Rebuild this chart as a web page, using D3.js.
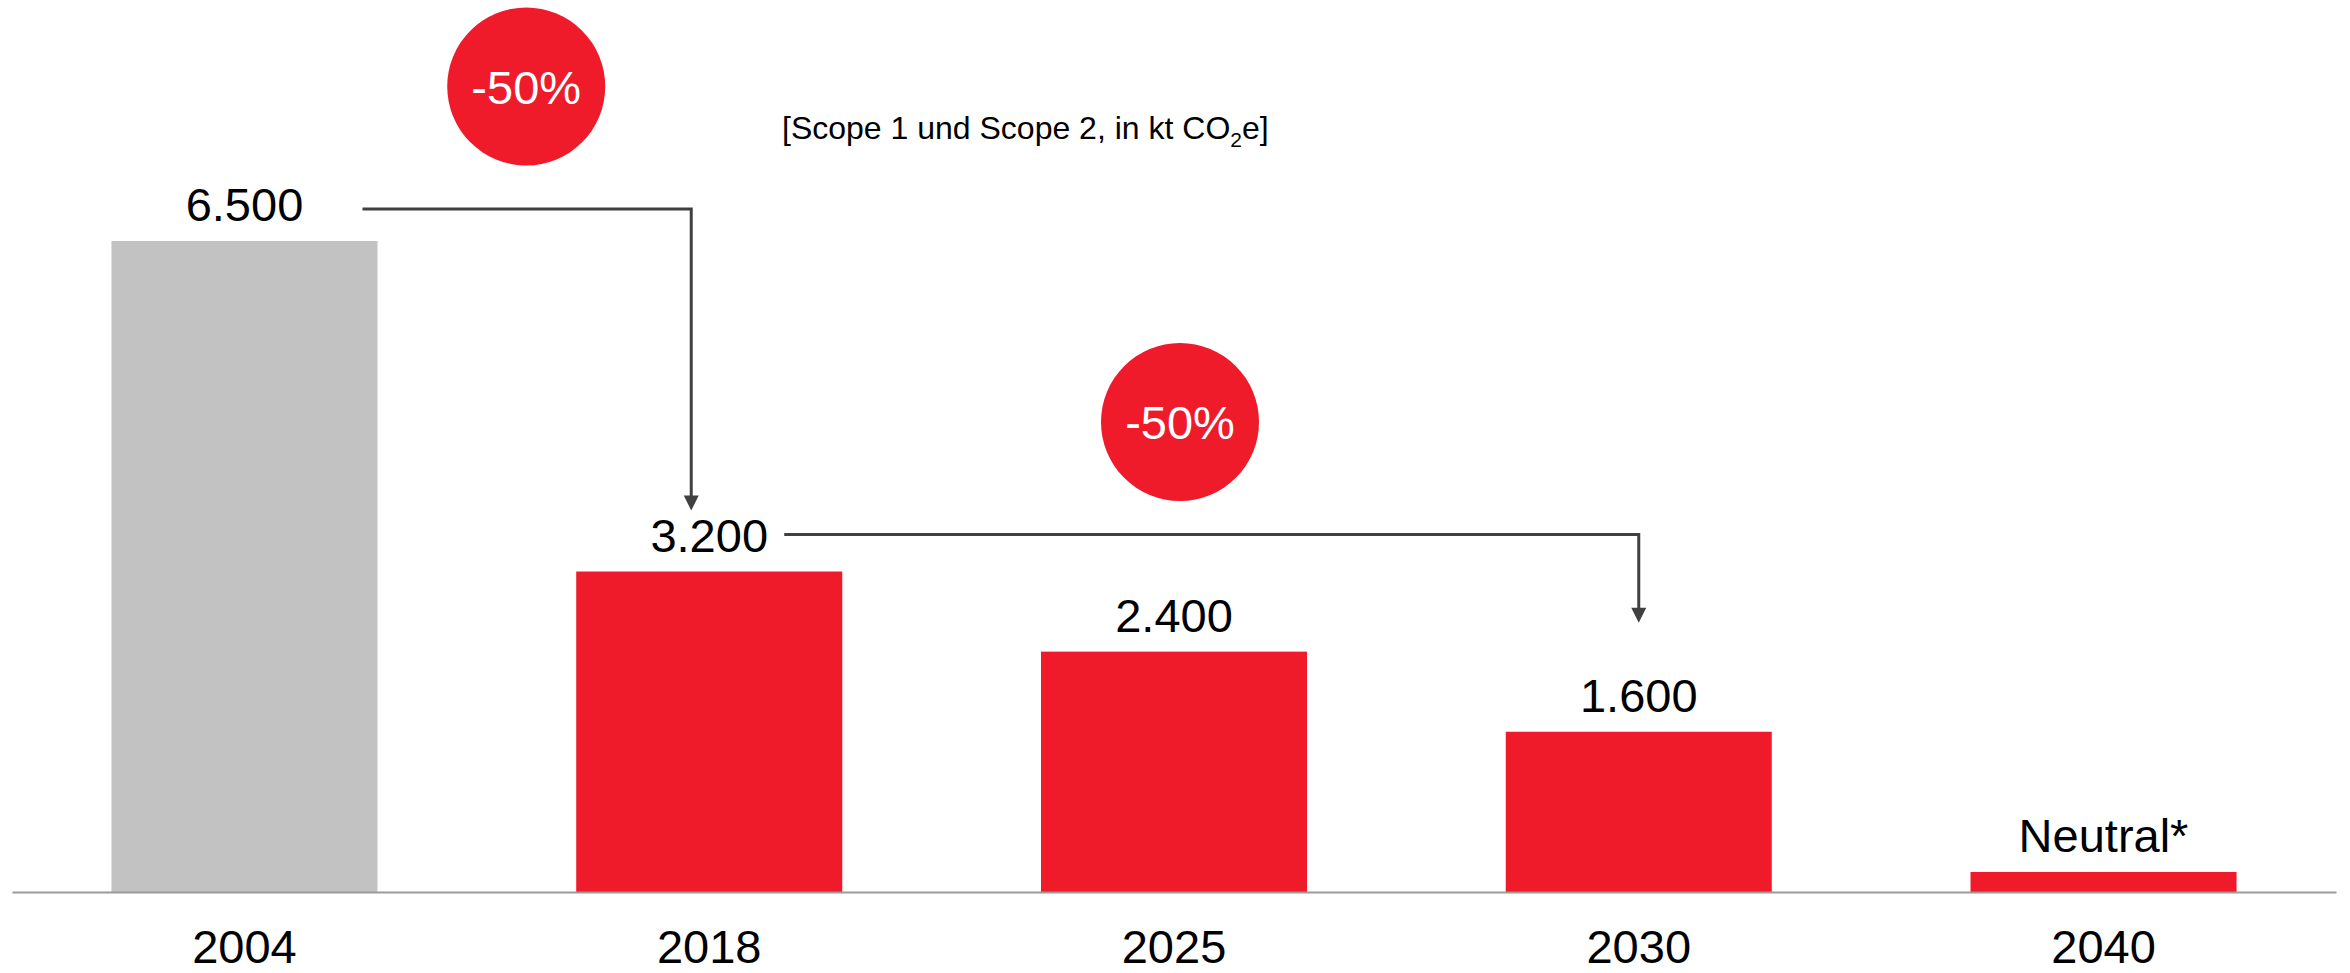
<!DOCTYPE html>
<html>
<head>
<meta charset="utf-8">
<script src="https://cdn.jsdelivr.net/npm/d3@7"></script>
<style>
  html, body { margin: 0; padding: 0; background: #fff; }
  svg { display: block; font-family: "Liberation Sans", Arial, Helvetica, sans-serif; }
</style>
</head>
<body>
<svg id="chart" width="2350" height="973"></svg>
<script>
// ---- data ----
const categories = ["2004", "2018", "2025", "2030", "2040"];
const values = [6500, 3200, 2400, 1600, 200];
const valueLabels = ["6.500", "3.200", "2.400", "1.600", "Neutral*"];
const barColors = ["#c2c2c2", "#ef1b2b", "#ef1b2b", "#ef1b2b", "#ef1b2b"];
const badgeTexts = ["-50%", "-50%"];
const subtitle = ["[Scope 1 und Scope 2, in kt CO", "2", "e]"];

// ---- layout ----
const W = 2350, H = 973;
const svg = d3.select("#chart");

const x = d3.scaleBand()
  .domain(categories)
  .range([12, 2336])
  .paddingInner(0.4276)
  .paddingOuter(0.214);

const y = d3.scaleLinear()
  .domain([0, 6500])
  .range([892, 241]);

const bw = x.bandwidth();
const data = categories.map((c, i) => ({ c, v: values[i], label: valueLabels[i], color: barColors[i] }));

// bars
svg.append("g").selectAll("rect")
  .data(data).join("rect")
  .attr("x", d => x(d.c))
  .attr("y", d => y(d.v))
  .attr("width", bw)
  .attr("height", d => y(0) - y(d.v))
  .attr("fill", d => d.color);

// baseline axis
const axis = d3.axisBottom(x).tickSize(0).tickPadding(0);
const gAxis = svg.append("g").attr("transform", `translate(0,${y(0)})`).call(axis);
gAxis.select(".domain").attr("stroke", "#9a9a9a").attr("stroke-width", 2);
gAxis.selectAll(".tick text")
  .attr("y", 71)
  .attr("dy", 0)
  .attr("font-size", 47)
  .attr("font-family", '"Liberation Sans", Arial, sans-serif')
  .attr("fill", "#000");

// value labels
svg.append("g").selectAll("text")
  .data(data).join("text")
  .attr("x", d => x(d.c) + bw / 2)
  .attr("y", d => y(d.v) - 20)
  .attr("text-anchor", "middle")
  .attr("font-size", 47)
  .attr("fill", "#000")
  .text(d => d.label);

// connector arrows
const lineColor = "#404040";
const connectors = [
  { x0: x("2004") + bw - 15, y0: y(6500) - 32, x1: x("2018") + bw / 2 - 18, y1: y(3200) - 61 },
  { x0: x("2018") + bw - 58, y0: y(3200) - 37, x1: x("2030") + bw / 2, y1: y(1600) - 109 }
];
const gConn = svg.append("g");
connectors.forEach(cn => {
  gConn.append("path")
    .attr("d", `M${cn.x0},${cn.y0} H${cn.x1} V${cn.y1 - 14}`)
    .attr("fill", "none")
    .attr("stroke", lineColor)
    .attr("stroke-width", 3);
  gConn.append("path")
    .attr("d", `M${cn.x1 - 7.5},${cn.y1 - 15} L${cn.x1 + 7.5},${cn.y1 - 15} L${cn.x1},${cn.y1} Z`)
    .attr("fill", lineColor);
});

// badges
const badges = [
  { cx: x("2018") - 50, cy: 86.5, t: badgeTexts[0] },
  { cx: x("2025") + bw / 2 + 6, cy: 422, t: badgeTexts[1] }
];
const gB = svg.append("g");
badges.forEach(b => {
  gB.append("circle").attr("cx", b.cx).attr("cy", b.cy).attr("r", 79).attr("fill", "#ef1b2b");
  gB.append("text")
    .attr("x", b.cx).attr("y", b.cy + 17)
    .attr("text-anchor", "middle")
    .attr("font-size", 47)
    .attr("fill", "#fff")
    .text(b.t);
});

// subtitle
const st = svg.append("text")
  .attr("x", 782).attr("y", 139)
  .attr("font-size", 32)
  .attr("fill", "#000");
st.append("tspan").text(subtitle[0]);
st.append("tspan").attr("font-size", 21).attr("dy", 8).text(subtitle[1]);
st.append("tspan").attr("dy", -8).text(subtitle[2]);
</script>
</body>
</html>
